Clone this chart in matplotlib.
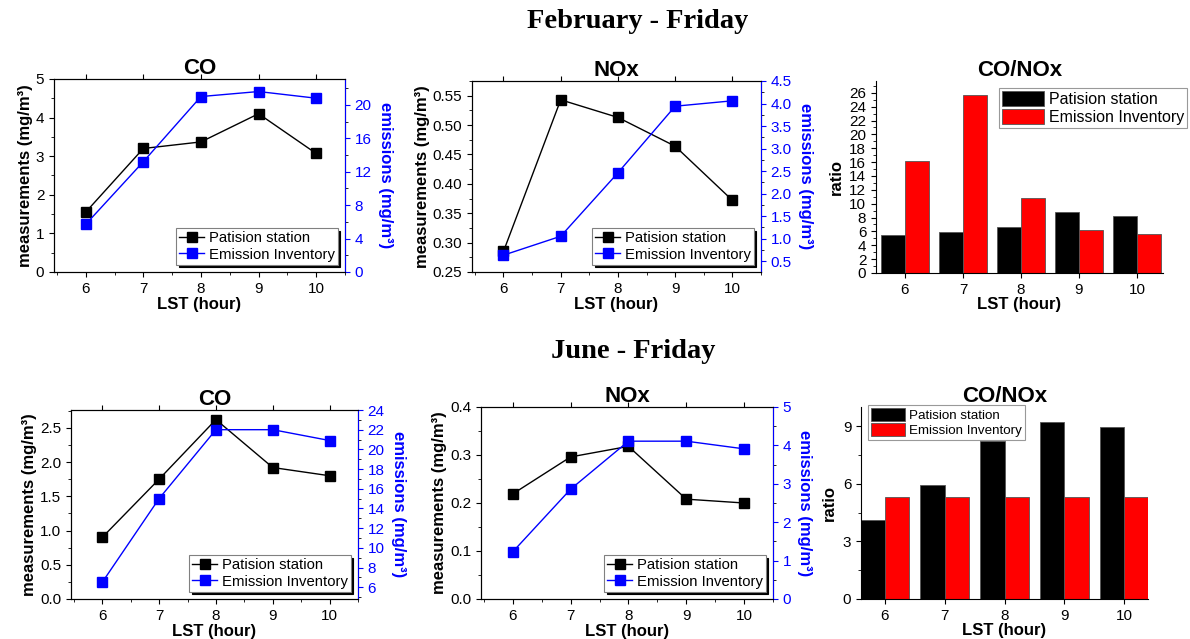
import matplotlib
matplotlib.use("Agg")
import matplotlib.pyplot as plt
from matplotlib.ticker import MultipleLocator, AutoMinorLocator
import numpy as np

plt.rcParams['font.family'] = ['Liberation Sans', 'DejaVu Sans']

hours = [6, 7, 8, 9, 10]

# February - Friday
feb_co_meas = [1.55, 3.2, 3.37, 4.1, 3.07]
feb_co_emis = [5.7, 13.2, 21.0, 21.6, 20.8]
feb_nox_meas = [0.285, 0.543, 0.513, 0.464, 0.372]
feb_nox_emis = [0.63, 1.05, 2.46, 3.94, 4.06]
feb_ratio_meas = [5.44, 5.9, 6.6, 8.86, 8.28]
feb_ratio_emis = [16.2, 25.7, 10.8, 6.26, 5.68]

# June - Friday
jun_co_meas = [0.9, 1.75, 2.62, 1.92, 1.80]
jun_co_emis = [6.5, 15.0, 22.0, 22.0, 20.9]
jun_nox_meas = [0.219, 0.296, 0.318, 0.208, 0.200]
jun_nox_emis = [1.23, 2.86, 4.11, 4.11, 3.91]
jun_ratio_meas = [4.1, 5.92, 8.21, 9.24, 8.94]
jun_ratio_emis = [5.31, 5.31, 5.31, 5.31, 5.31]

W, H = 1190, 639
fig = plt.figure(figsize=(W / 100, H / 100), dpi=100)


def box(l, t, r, b):
    return fig.add_axes([l / W, 1 - b / H, (r - l) / W, (b - t) / H])


def line_panel(ax, title, meas, emis, ylim, y2lim, ystep, y2step, yfmt=None):
    ax2 = ax.twinx()
    l1, = ax.plot(hours, meas, color="black", marker="s", markersize=6.5, lw=1)
    l2, = ax2.plot(hours, emis, color="blue", marker="s", markersize=6.5, lw=1)
    ax.set_xlim(5.45, 10.5)
    ax.set_ylim(*ylim)
    ax2.set_ylim(*y2lim)
    ax.set_xticks(hours)
    ax.yaxis.set_major_locator(MultipleLocator(ystep))
    ax.yaxis.set_minor_locator(AutoMinorLocator(2))
    ax.xaxis.set_minor_locator(AutoMinorLocator(2))
    ax2.yaxis.set_major_locator(MultipleLocator(y2step))
    ax2.yaxis.set_minor_locator(AutoMinorLocator(2))
    if yfmt:
        ax.yaxis.set_major_formatter(yfmt)
    ax.tick_params(axis="both", labelsize=11, direction="out")
    ax.tick_params(axis="x", top=True)
    ax2.tick_params(axis="y", colors="blue", labelsize=11, direction="out")
    ax2.spines["right"].set_color("blue")
    ax.set_title(title, fontsize=16, fontweight="bold", pad=3)
    ax.set_xlabel("LST (hour)", fontsize=12, fontweight="bold", labelpad=1)
    ax.set_ylabel("measurements (mg/m³)", fontsize=12, fontweight="bold", labelpad=2)
    ax2.set_ylabel("emissions (mg/m³)", fontsize=12, fontweight="bold",
                   color="blue", rotation=270, labelpad=15)
    leg = ax2.legend([l1, l2], ["Patision station", "Emission Inventory"],
                     loc="lower right", fontsize=10.7, fancybox=False,
                     shadow={"color": "black", "alpha": 1}, edgecolor="gray",
                     borderpad=0.2, handlelength=1.7, handletextpad=0.3,
                     labelspacing=0.15, borderaxespad=0.5)
    leg.get_frame().set_linewidth(0.8)


def bar_panel(ax, title, meas, emis, ylim, ystep, xlim, lsize, anchor):
    x = np.array(hours)
    w = 0.41
    ax.bar(x - w / 2, meas, width=w, color="black", edgecolor="#555555",
           linewidth=0.6, label="Patision station")
    ax.bar(x + w / 2, emis, width=w, color="red", edgecolor="#555555",
           linewidth=0.6, label="Emission Inventory")
    ax.set_xlim(*xlim)
    ax.set_ylim(*ylim)
    ax.set_xticks(hours)
    ax.yaxis.set_major_locator(MultipleLocator(ystep))
    ax.yaxis.set_minor_locator(AutoMinorLocator(2))
    ax.spines["top"].set_visible(False)
    ax.spines["right"].set_visible(False)
    ax.tick_params(labelsize=11, direction="out")
    ax.set_title(title, fontsize=16, fontweight="bold", pad=3)
    ax.set_xlabel("LST (hour)", fontsize=12, fontweight="bold", labelpad=0)
    ax.set_ylabel("ratio", fontsize=12, fontweight="bold")
    loc, xy = anchor
    leg = ax.legend(loc=loc, bbox_to_anchor=xy, fontsize=lsize, fancybox=False,
                    edgecolor="gray", borderpad=0.2, handlelength=2.6,
                    handleheight=1.1, handletextpad=0.3, labelspacing=0.1,
                    borderaxespad=0)
    leg.get_frame().set_linewidth(0.8)


fig.text(0.536, 1 - 22 / H, "February - Friday", ha="center", va="center",
         fontsize=20.5, fontweight="bold", family="Liberation Serif")
fig.text(0.532, 1 - 352 / H, "June - Friday", ha="center", va="center",
         fontsize=20.5, fontweight="bold", family="Liberation Serif")

ax = box(54, 79, 345, 272)
line_panel(ax, "CO", feb_co_meas, feb_co_emis, (0, 5), (0, 23.1), 1, 4)

ax = box(472, 81, 761, 272)
line_panel(ax, "NOx", feb_nox_meas, feb_nox_emis, (0.25, 0.575), (0.256, 4.5),
           0.05, 0.5, plt.FormatStrFormatter("%.2f"))

ax = box(876, 81, 1163, 273)
bar_panel(ax, "CO/NOx", feb_ratio_meas, feb_ratio_emis, (0, 27.7), 2, (5.5, 10.45),
          11.5, ("upper right", (1.084, 0.964)))

ax = box(71, 410, 358, 599)
line_panel(ax, "CO", jun_co_meas, jun_co_emis, (0, 2.76), (4.8, 24.0), 0.5, 2)

ax = box(481, 407, 773, 599)
line_panel(ax, "NOx", jun_nox_meas, jun_nox_emis, (0, 0.4), (0, 5), 0.1, 1)

ax = box(861, 407, 1148, 599)
bar_panel(ax, "CO/NOx", jun_ratio_meas, jun_ratio_emis, (0, 10.0), 3, (5.6, 10.4),
          9.6, ("upper left", (0.024, 1.01)))

fig.savefig("out.png", dpi=100)
